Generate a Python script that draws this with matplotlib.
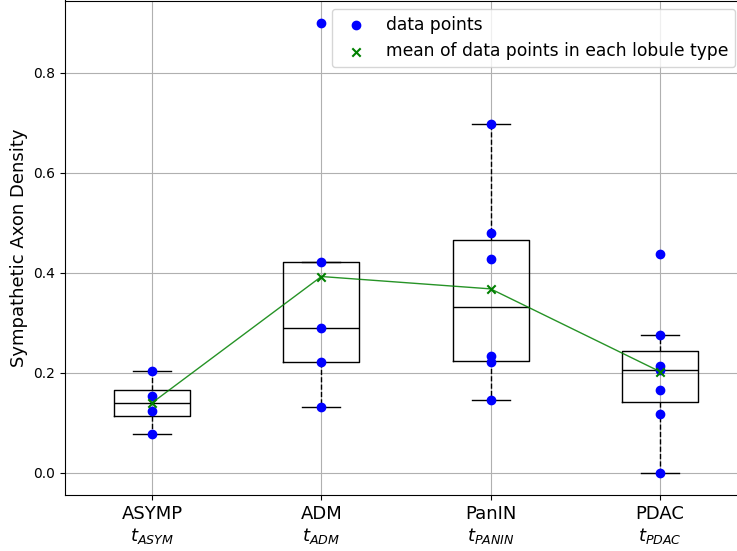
import numpy as np
import matplotlib
matplotlib.use("Agg")
import matplotlib.pyplot as plt

# data
groups = ["ASYMP", "ADM", "PanIN", "PDAC"]
subs = ["$t_{ASYM}$", "$t_{ADM}$", "$t_{PANIN}$", "$t_{PDAC}$"]
asymp = [0.203, 0.153, 0.124, 0.078]
adm = [0.90, 0.421, 0.289, 0.221, 0.131]
panin = [0.698, 0.479, 0.428, 0.234, 0.221, 0.146]
pdac = [0.438, 0.275, 0.213, 0.205, 0.165, 0.118, 0.0]
data = [asymp, adm, panin, pdac]


def main():
    fig = plt.figure(figsize=(7.37, 5.51), dpi=100)
    ax = fig.add_axes([65 / 737, 56 / 551, 679 / 737, 494.5 / 551])

    pos = np.arange(1, len(groups) + 1)
    black = dict(color="black", linewidth=1)
    ax.boxplot(data, positions=pos, showfliers=False,
               boxprops=black, medianprops=black, capprops=black,
               whiskerprops=dict(color="black", linewidth=1, linestyle="--"))

    # scatter all points
    for i, d in enumerate(data):
        ax.scatter(np.full(len(d), pos[i]), d, color="blue", zorder=3,
                   label="data points" if i == 0 else None)

    means = [np.mean(d) for d in data]
    ax.plot(pos, means, color="green", alpha=0.85, linewidth=1, zorder=4)
    ax.scatter(pos, means, marker="x", color="green", zorder=5,
               label="mean of data points in each lobule type")

    ax.set_xticks(pos)
    ax.set_xticklabels([g + "\n" + s for g, s in zip(groups, subs)], fontsize=13)
    ax.set_xlim(0.486, 4.496)
    ax.set_ylim(-0.045, 0.945)
    ax.set_ylabel("Sympathetic Axon Density", fontsize=13)
    ax.grid(True)
    ax.legend(loc="upper right", fontsize=12.3, borderaxespad=0.5)

    fig.savefig("out.png", dpi=100)


if __name__ == "__main__":
    main()
